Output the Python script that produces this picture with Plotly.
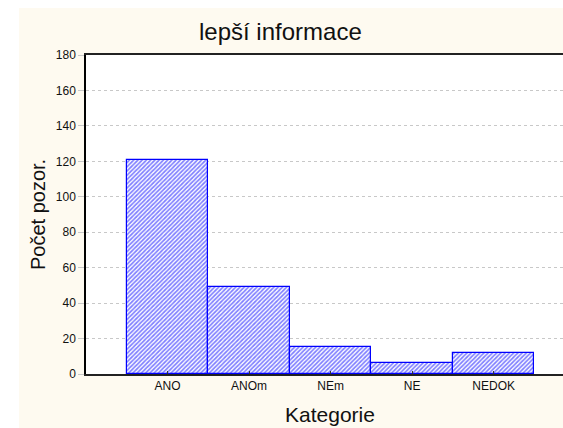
import plotly.graph_objects as go

categories = ["ANO", "ANOm", "NEm", "NE", "NEDOK"]
counts = [121, 49, 15, 6, 12]
y_ticks = [0, 20, 40, 60, 80, 100, 120, 140, 160, 180]

W, H = 563, 428
L, R, T, B = 86, 0, 55, 428 - 374
pw, ph = W - L - R, H - T - B

def px_x(p):
    return (p - L) / pw

def px_y(p):
    return (H - B - p) / ph

cream = "#FEFAF0"
font = "Liberation Sans, Arial, sans-serif"

fig = go.Figure(go.Bar(
    x=list(range(len(categories))),
    y=counts,
    width=1.0,
    marker=dict(
        color="white",
        line=dict(color="#0000FF", width=1.2),
        pattern=dict(shape="/", fgcolor="#0000FF", bgcolor="white", size=3, solidity=0.55),
    ),
    hoverinfo="x+y",
))

fig.update_layout(
    width=W, height=H,
    margin=dict(l=L, r=R, t=T, b=B),
    paper_bgcolor=cream,
    plot_bgcolor="white",
    showlegend=False,
    bargap=0,
    font=dict(family=font, color="#111111"),
    xaxis=dict(
        range=[-1.0, 4.85],
        tickmode="array",
        tickvals=list(range(len(categories))),
        ticktext=categories,
        ticks="inside", ticklen=3, tickcolor="#333333",
        showline=True, linecolor="#222222", linewidth=1.5, mirror=True,
        showgrid=False, zeroline=False,
        tickfont=dict(size=12, color="#111111"),
    ),
    yaxis=dict(
        range=[0, 180],
        tickmode="array",
        tickvals=y_ticks,
        ticks="outside", ticklen=6, tickcolor="#C8C8C8",
        showline=True, linecolor="#000000", linewidth=1.5,
        showgrid=True, gridcolor="#C8C8C8", griddash="dot", gridwidth=1,
        zeroline=False,
        tickfont=dict(size=12, color="#111111"),
    ),
    shapes=[
        dict(type="rect", xref="paper", yref="paper",
             x0=px_x(0), x1=px_x(19), y0=px_y(H), y1=px_y(0),
             fillcolor="white", line=dict(width=0), layer="below"),
        dict(type="rect", xref="paper", yref="paper",
             x0=px_x(0), x1=px_x(W), y0=px_y(8), y1=px_y(0),
             fillcolor="white", line=dict(width=0), layer="below"),
    ],
    annotations=[
        dict(text="lepší informace", xref="paper", yref="paper",
             x=px_x(280), y=px_y(32), xanchor="center", yanchor="middle",
             showarrow=False, font=dict(size=24, family=font, color="#111111")),
        dict(text="Počet pozor.", xref="paper", yref="paper",
             x=px_x(38), y=px_y(215), xanchor="center", yanchor="middle",
             textangle=-90, showarrow=False,
             font=dict(size=20, family=font, color="#111111")),
        dict(text="Kategorie", xref="paper", yref="paper",
             x=px_x(330), y=px_y(414), xanchor="center", yanchor="middle",
             showarrow=False, font=dict(size=21, family=font, color="#111111")),
    ],
)

fig.write_html(
    "out.html",
    config={"displayModeBar": False},
    post_script="document.body.style.margin='0';document.body.style.overflow='hidden';",
)
